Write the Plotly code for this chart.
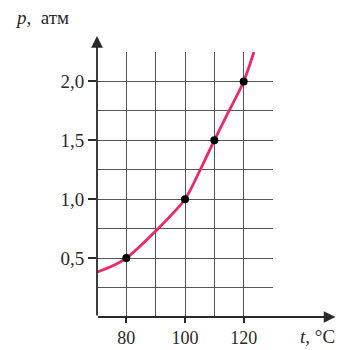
import plotly.graph_objects as go

# curve p(t)
curve_t = [70, 75, 80, 90, 100, 105, 110, 115, 120, 123.5]
curve_p = [0.38, 0.43, 0.5, 0.73, 1.0, 1.24, 1.5, 1.75, 2.0, 2.25]

# measured points
pts_t = [80, 100, 110, 120]
pts_p = [0.5, 1.0, 1.5, 2.0]

x_ticks = [80, 100, 120]
x_labels = ['80', '100', '120']
y_ticks = [0.5, 1.0, 1.5, 2.0]
y_labels = ['0,5', '1,0', '1,5', '2,0']

serif = 'Liberation Serif'
ink = '#2a2a2a'

fig = go.Figure()

fig.add_trace(go.Scatter(x=curve_t, y=curve_p, mode='lines',
                         line=dict(color='#e8286f', width=2.8, shape='spline', smoothing=0.8),
                         showlegend=False, hoverinfo='skip'))
fig.add_trace(go.Scatter(x=pts_t, y=pts_p, mode='markers',
                         marker=dict(color='black', size=8),
                         showlegend=False))

fig.update_layout(
  width=338, height=350,
  margin=dict(l=97, r=65, t=52, b=33, autoexpand=False),
  paper_bgcolor='white', plot_bgcolor='white',
  font=dict(family=serif, size=19, color=ink),
  xaxis=dict(range=[70, 130], tickvals=x_ticks, ticktext=x_labels,
             tickfont=dict(family=serif, size=18, color=ink),
             ticks='outside', ticklen=5, tickwidth=1.5, tickcolor=ink,
             ticklabelstandoff=-1,
             showgrid=True, gridcolor='#555', gridwidth=1,
             minor=dict(dtick=10, tick0=70, showgrid=True, gridcolor='#555', gridwidth=1),
             showline=False, zeroline=False, fixedrange=True),
  yaxis=dict(range=[0, 2.25], tickvals=y_ticks, ticktext=y_labels,
             tickfont=dict(family=serif, size=19, color=ink),
             ticks='outside', ticklen=8, tickwidth=1.5, tickcolor=ink,
             showgrid=True, gridcolor='#555', gridwidth=1,
             minor=dict(dtick=0.25, tick0=0, showgrid=True, gridcolor='#555', gridwidth=1),
             showline=False, zeroline=False, fixedrange=True),
)

# axes with arrows
fig.add_annotation(xref='paper', yref='paper', x=0, y=1.06, ax=0, ay=281,
                   showarrow=True, arrowhead=2, arrowsize=1.3, arrowwidth=1.8,
                   arrowcolor=ink, text='')
fig.add_annotation(xref='paper', yref='paper', x=1.355, y=0, ax=-239, ay=0,
                   showarrow=True, arrowhead=2, arrowsize=1.3, arrowwidth=1.8,
                   arrowcolor=ink, text='')

# axis titles
fig.add_annotation(xref='paper', yref='paper', x=-0.48, y=1.13, xanchor='left', yanchor='middle',
                   showarrow=False, text='<i>p</i>,  атм', font=dict(family=serif, size=19, color=ink))
fig.add_annotation(xref='paper', yref='paper', x=1.365, y=-0.075, xanchor='right', yanchor='middle',
                   showarrow=False, text='<i>t</i>, °C', font=dict(family=serif, size=19, color=ink))

# page body has an 8px default margin; drop it so the figure sits at 0,0
fig.write_html("out.html", config={'displayModeBar': False},
               post_script="document.body.style.margin='0';")
